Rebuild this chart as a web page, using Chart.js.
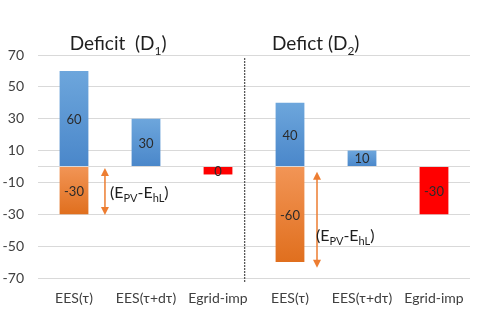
<!DOCTYPE html>
<html>
<head>
<meta charset="utf-8">
<script src="https://cdn.jsdelivr.net/npm/chart.js@4.4.0/dist/chart.umd.min.js"></script>
<style>
  html, body { margin: 0; padding: 0; background: #fff; }
  #grafico { display: block; }
</style>
</head>
<body>
<canvas id="grafico" width="480" height="310"></canvas>
<script>
// Datos
const categorias = ['EES(τ)', 'EES(τ+dτ)', 'Egrid-imp', 'EES(τ)', 'EES(τ+dτ)', 'Egrid-imp'];
const valoresEES = [60, 30, null, 40, 10, null];
const valoresPV = [-30, null, null, -60, null, null];
const valoresRed = [null, null, -5, null, null, -30];
const textosRed = ['', '', '0', '', '', '-30'];
const ticksY = [-70, -50, -30, -10, 0, 10, 30, 50, 70];

const FUENTE = 'Lato, "Open Sans", sans-serif';

// degradado vertical por barra
function degradado(arriba, abajo) {
  return ctx => {
    const chart = ctx.chart;
    const y = chart.scales.y;
    const v = ctx.raw;
    if (!chart.chartArea || !y || v == null) return abajo;
    const y0 = y.getPixelForValue(Math.max(v, 0));
    const y1 = y.getPixelForValue(Math.min(v, 0));
    const g = chart.ctx.createLinearGradient(0, y0, 0, y1 + 0.01);
    g.addColorStop(0, arriba);
    g.addColorStop(1, abajo);
    return g;
  };
}

// texto con subíndices
function textoRico(ctx, partes, x, y, tam, tamSub) {
  ctx.textAlign = 'left';
  ctx.textBaseline = 'alphabetic';
  partes.forEach(p => {
    ctx.font = `${p.sub ? tamSub : tam}px ${FUENTE}`;
    ctx.fillText(p.t, x, p.sub ? y + tam * 0.28 : y);
    x += ctx.measureText(p.t).width;
  });
}

function flecha(ctx, x, yA, yB, color) {
  ctx.strokeStyle = color;
  ctx.fillStyle = color;
  ctx.lineWidth = 1.5;
  ctx.beginPath();
  ctx.moveTo(x, yA + 6);
  ctx.lineTo(x, yB - 6);
  ctx.stroke();
  ctx.beginPath();
  ctx.moveTo(x, yA);
  ctx.lineTo(x - 4, yA + 8);
  ctx.lineTo(x + 4, yA + 8);
  ctx.closePath();
  ctx.fill();
  ctx.beginPath();
  ctx.moveTo(x, yB);
  ctx.lineTo(x - 4, yB - 8);
  ctx.lineTo(x + 4, yB - 8);
  ctx.closePath();
  ctx.fill();
}

const anotaciones = {
  id: 'anotaciones',
  afterDatasetsDraw(chart) {
    const { ctx, chartArea, scales: { x, y } } = chart;
    ctx.save();

    // etiquetas dentro de las barras
    chart.data.datasets.forEach((ds, i) => {
      const meta = chart.getDatasetMeta(i);
      meta.data.forEach((bar, j) => {
        if (ds.data[j] == null) return;
        const txt = ds.textos ? ds.textos[j] : String(ds.data[j]);
        ctx.font = `13px ${FUENTE}`;
        ctx.fillStyle = '#2b2b2b';
        ctx.textAlign = 'center';
        ctx.textBaseline = 'middle';
        ctx.fillText(txt, bar.x, (bar.y + bar.base) / 2 + 1);
      });
    });

    // línea separadora punteada
    const xs = x.getPixelForValue(2.37);
    ctx.strokeStyle = '#595959';
    ctx.lineWidth = 1.3;
    ctx.setLineDash([2, 1]);
    ctx.beginPath();
    ctx.moveTo(xs, chartArea.top + 3);
    ctx.lineTo(xs, chartArea.bottom + 5);
    ctx.stroke();
    ctx.setLineDash([]);

    // títulos
    ctx.fillStyle = '#1f1f1f';
    textoRico(ctx, [{ t: 'Deficit  (D' }, { t: '1', sub: true }, { t: ')' }],
      x.getPixelForValue(-0.06), chartArea.top - 5, 19, 12);
    textoRico(ctx, [{ t: 'Defict (D' }, { t: '2', sub: true }, { t: ')' }],
      x.getPixelForValue(2.75), chartArea.top - 5, 19, 12);

    // flechas (E_PV - E_hL)
    const naranja = '#ed7d31';
    flecha(ctx, x.getPixelForValue(0.43), y.getPixelForValue(-1), y.getPixelForValue(-30.5), naranja);
    flecha(ctx, x.getPixelForValue(3.375), y.getPixelForValue(-3.3), y.getPixelForValue(-63.5), naranja);

    const etiqueta = [{ t: '(E' }, { t: 'PV', sub: true }, { t: '-E' }, { t: 'hL', sub: true }, { t: ')' }];
    ctx.fillStyle = '#1f1f1f';
    textoRico(ctx, etiqueta, x.getPixelForValue(0.5), y.getPixelForValue(-16.5) + 5, 16, 11);
    textoRico(ctx, etiqueta, x.getPixelForValue(3.36), y.getPixelForValue(-43.5) + 5, 16, 11);

    ctx.restore();
  }
};

new Chart(document.getElementById('grafico'), {
  type: 'bar',
  data: {
    labels: categorias,
    datasets: [
      {
        label: 'EES',
        data: valoresEES,
        backgroundColor: degradado('#6da6dc', '#4a87ca')
      },
      {
        label: 'PV-hL',
        data: valoresPV,
        backgroundColor: degradado('#f29556', '#e06f1e')
      },
      {
        label: 'Egrid',
        data: valoresRed,
        textos: textosRed,
        backgroundColor: '#ff0000'
      }
    ]
  },
  options: {
    responsive: false,
    devicePixelRatio: 1,
    animation: false,
    layout: { padding: { top: 55, right: 10, left: 0, bottom: 0 } },
    datasets: {
      bar: { categoryPercentage: 1, barPercentage: 0.4, borderWidth: 0 }
    },
    plugins: {
      legend: { display: false },
      tooltip: { enabled: false }
    },
    scales: {
      x: {
        stacked: true,
        grid: { display: false, drawTicks: false },
        border: { display: false },
        ticks: {
          color: '#404040',
          font: { family: FUENTE, size: 14 },
          padding: 12,
          maxRotation: 0,
          autoSkip: false
        },
        afterFit: s => { s.height = 32; }
      },
      y: {
        stacked: true,
        min: -70,
        max: 70,
        afterBuildTicks: s => { s.ticks = ticksY.map(v => ({ value: v })); },
        grid: { color: '#d9d9d9', drawTicks: false },
        border: { display: false },
        ticks: {
          color: '#404040',
          font: { family: FUENTE, size: 14 },
          padding: 14,
          callback: v => (v === 0 ? '' : v)
        },
        afterFit: s => { s.width = 38; }
      }
    }
  },
  plugins: [anotaciones]
});
</script>
</body>
</html>
